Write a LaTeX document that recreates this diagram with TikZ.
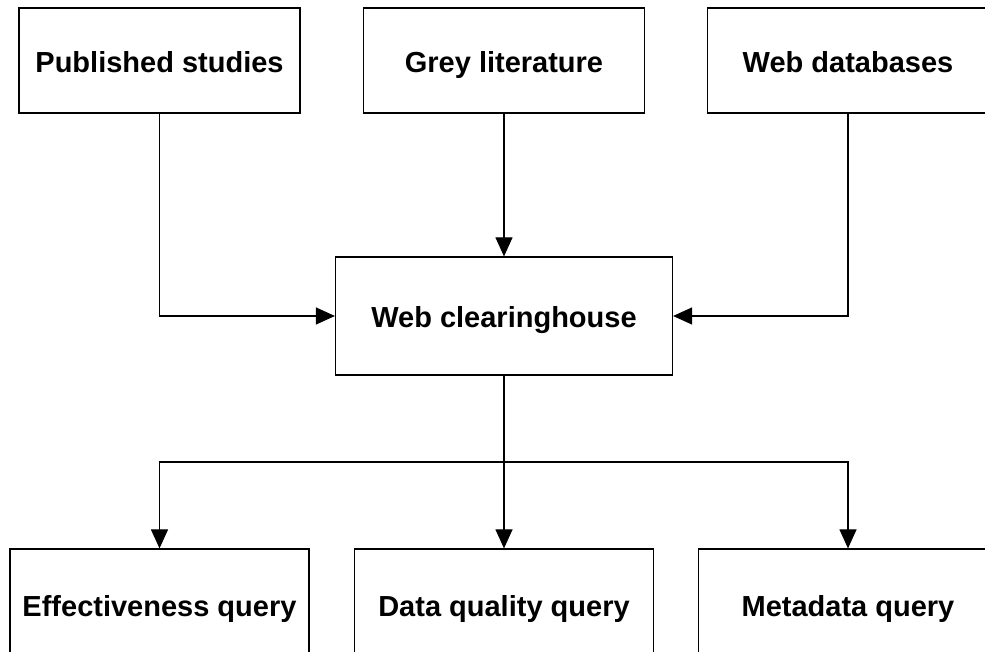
\documentclass[tikz,border=0pt]{standalone}
\usepackage{fontspec}
\setmainfont{Liberation Sans}
\usetikzlibrary{arrows.meta}

\begin{document}
\begin{tikzpicture}[x=1pt, y=1pt,
        box/.style={draw, line width=1.2pt, inner sep=0pt,
            text height=26pt, text depth=2pt,
            font=\fontsize{29}{34}\selectfont\bfseries},
        srcbox/.style={box, minimum width=281pt, minimum height=105pt},
        outbox/.style={box, minimum width=299pt, minimum height=112pt},
        link/.style={line width=1.2pt},
        flow/.style={link, -{Triangle[length=19pt, width=17pt]}}]
        % Page frame
        \useasboundingbox (0,0) rectangle (985,652);
        \clip (0,0) rectangle (985,652);

        % Sources
        \node[srcbox] (pub)   at (159.5,591.5) {Published studies};
        \node[srcbox] (grey)  at (504,591.5)   {Grey literature};
        \node[srcbox] (webdb) at (848,591.5)   {Web databases};

        % Hub
        \node[box, minimum width=337pt, minimum height=118pt] (hub) at (504,336) {Web clearinghouse};

        % Queries
        \node[outbox] (eff)   at (159.5,47) {Effectiveness query};
        \node[outbox] (dqual) at (504,47)   {Data quality query};
        \node[outbox] (meta)  at (848,47)   {Metadata query};

        % Sources into hub
        \draw[flow] (pub.south) |- (hub.west);
        \draw[flow] (grey.south) -- (hub.north);
        \draw[flow] (webdb.south) |- (hub.east);

        % Hub out to queries
        \coordinate (split) at (504,190);
        \draw[link] (hub.south) -- (split);
        \foreach \q in {eff, dqual, meta} {
            \draw[flow] (split) -| (\q.north);
        }
    \end{tikzpicture}
\end{document}
